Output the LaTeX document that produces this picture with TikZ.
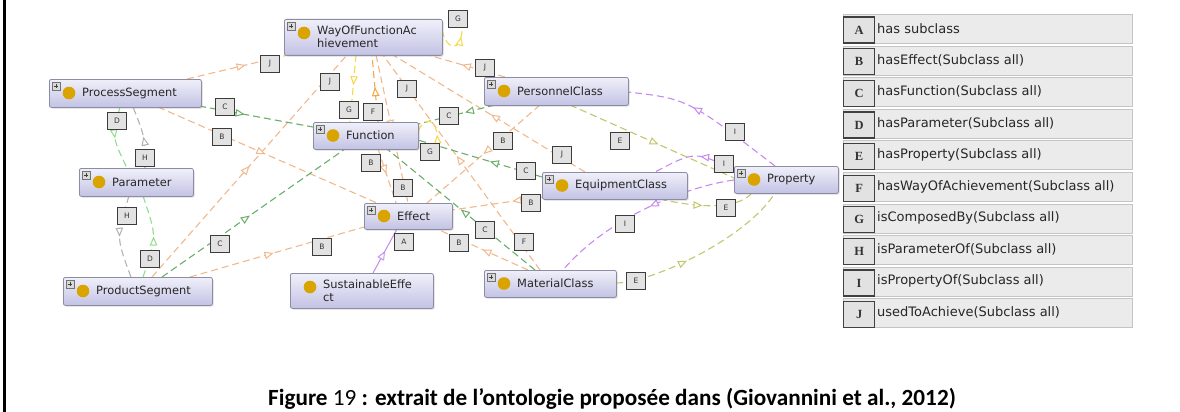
\documentclass[tikz,border=0pt]{standalone}
\usepackage{fontspec}
\setmainfont{DejaVu Sans}
\newfontfamily\capfont{Carlito}
\newfontfamily\letfont{Liberation Serif}
\usetikzlibrary{calc,arrows.meta,decorations.markings,shadows}
\definecolor{ntop}{HTML}{F0F0FA}
\definecolor{nbot}{HTML}{C2C2E4}
\definecolor{nbord}{HTML}{8C8CA4}
\definecolor{gold}{HTML}{D9A300}
\definecolor{labf}{HTML}{E2E2E2}
\definecolor{labb}{HTML}{3C3C3C}
\definecolor{colJ}{HTML}{F0B88C}
\definecolor{colF}{HTML}{F2A848}
\definecolor{colC}{HTML}{6AAE6A}
\definecolor{colD}{HTML}{8EDE8E}
\definecolor{colE}{HTML}{C2C66E}
\definecolor{colG}{HTML}{F6D84A}
\definecolor{colH}{HTML}{B2B2B2}
\definecolor{colI}{HTML}{C888F0}
\definecolor{colA}{HTML}{C494EC}
\definecolor{rowf}{HTML}{EBEBEB}
\definecolor{rowb}{HTML}{C4C4C4}
\pgfdeclarelayer{edges}
\pgfsetlayers{edges,main}
\tikzset{
  cls/.style={draw=nbord, line width=0.8pt, rounded corners=2pt, top color=ntop, bottom color=nbot, anchor=north west, inner sep=0pt, drop shadow={shadow xshift=1.2pt, shadow yshift=-1.2pt, opacity=0.3}},
  ctext/.style={anchor=west, inner sep=0pt, align=left, text=black!85, font=\fontsize{11.4}{13}\selectfont},
  lab/.style={draw=labb, line width=1.1pt, fill=labf, minimum width=19pt, minimum height=17pt, inner sep=0pt, text=black!80, font=\fontsize{7.5}{8}\selectfont, drop shadow={shadow xshift=0.8pt, shadow yshift=-0.8pt, opacity=0.3}},
  rel/.style={dash pattern=on 7pt off 4pt, line width=1.1pt},
  tipat/.style={postaction={decorate, decoration={markings, mark=at position #1 with {\arrow[solid, line width=1pt]{Triangle[length=9pt, width=7.5pt, fill=white]}}}}},
  legrow/.style={draw=rowb, fill=rowf, line width=0.8pt, anchor=north west, minimum width=289pt, minimum height=29pt, inner sep=0pt},
  legbox/.style={draw=black!75, fill=labf, line width=1.3pt, anchor=north west, minimum width=31pt, minimum height=26pt, inner sep=0pt, font=\letfont\bfseries\fontsize{12.5}{14}\selectfont, text=black!80},
  legtext/.style={anchor=west, inner sep=0pt, font=\fontsize{13}{15}\selectfont, text=black!85},
}
\newcommand\ontnode[7]{%
  \node[cls, minimum width=#4pt, minimum height=#5pt] (#1) at (#2,#3) {};
  \fill[gold] ($(#1.north west)+(20,#6)$) circle (6.3pt);
  \node[ctext] (#1t) at ($(#1.north west)+(33,#5/2)$) {#7};
}
\newcommand\ontplus[1]{%
  \draw[fill=white!85!black, draw=black!55, line width=0.5pt] ($(#1.north west)+(3,3)$) rectangle ($(#1.north west)+(11,11)$);
  \draw[line width=0.9pt, black!75] ($(#1.north west)+(4.8,7)$) -- ($(#1.north west)+(9.2,7)$) ($(#1.north west)+(7,4.8)$) -- ($(#1.north west)+(7,9.2)$);
}
\begin{document}
\begin{tikzpicture}[x=1pt,y=-1pt]
\useasboundingbox (0,0) rectangle (1180,412);
\draw[line width=3pt] (4.5,0) -- (4.5,412);

% classes
\ontnode{way}{284}{19}{158}{36}{14}{WayOfFunctionAc\\hievement}
\ontnode{ps}{49}{79}{152}{28}{14}{ProcessSegment}
\ontnode{par}{79}{168}{114}{28}{14}{Parameter}
\ontnode{prod}{63}{277}{149}{28}{14}{ProductSegment}
\ontnode{fun}{313}{122}{105}{27}{13.5}{Function}
\ontnode{eff}{364}{203}{88}{26}{13}{Effect}
\ontnode{sus}{290}{273}{143}{35}{14}{SustainableEffe\\ct}
\ontnode{mat}{484}{270}{132}{27}{13.5}{MaterialClass}
\ontnode{per}{484}{77}{144}{28}{14}{PersonnelClass}
\ontnode{equ}{542}{172}{145}{27}{13.5}{EquipmentClass}
\ontnode{prop}{734}{166}{104}{27}{13.5}{Property}
\ontplus{way}\ontplus{ps}\ontplus{par}\ontplus{prod}\ontplus{fun}\ontplus{eff}
\ontplus{mat}\ontplus{per}\ontplus{equ}\ontplus{prop}

% edge labels
\node[lab] (lj1) at (270,64) {J};
\node[lab] (lj2) at (330,82) {J};
\node[lab] (lj3) at (407,89) {J};
\node[lab] (lj4) at (485,68) {J};
\node[lab] (lj5) at (562,155) {J};
\node[lab] (lc1) at (225,107) {C};
\node[lab] (lc2) at (220,244) {C};
\node[lab] (lc3) at (449,116) {C};
\node[lab] (lc4) at (526,171) {C};
\node[lab] (lc5) at (485,230) {C};
\node[lab] (lb1) at (222,137) {B};
\node[lab] (lb2) at (322,247) {B};
\node[lab] (lb3) at (503,141) {B};
\node[lab] (lb4) at (371,163) {B};
\node[lab] (lb5) at (403,188) {B};
\node[lab] (lb6) at (531,203) {B};
\node[lab] (lb7) at (459,243) {B};
\node[lab] (ld1) at (117,121) {D};
\node[lab] (ld2) at (150,259) {D};
\node[lab] (lh1) at (145,158) {H};
\node[lab] (lh2) at (127,216) {H};
\node[lab] (lg1) at (458,19) {G};
\node[lab] (lg2) at (349,110) {G};
\node[lab] (lg3) at (430,152) {G};
\node[lab] (lf1) at (373,112) {F};
\node[lab] (lf2) at (524,242) {F};
\node[lab] (le1) at (620,141) {E};
\node[lab] (le2) at (726,208) {E};
\node[lab] (le3) at (636,281) {E};
\node[lab] (li1) at (735,132) {I};
\node[lab] (li2) at (724,164) {I};
\node[lab] (li3) at (625,224) {I};
\node[lab] (la1) at (404,242) {A};

\begin{pgfonlayer}{edges}
% J usedToAchieve
\draw[rel,colJ,tipat=0.58] ($(ps.north west)+(138,0)$) -- ($(way.north west)+(4,36)$);
\draw[rel,colJ,tipat=0.5] ($(prod.north west)+(89,0)$) -- ($(way.north west)+(63,36)$);
\draw[rel,colJ,tipat=0.53] ($(mat.north west)+(56,0)$) -- ($(way.north west)+(99,36)$);
\draw[rel,colJ,tipat=0.49] ($(equ.north west)+(43,0)$) -- ($(way.north west)+(109,36)$);
\draw[rel,colJ,tipat=0.56] ($(per.north west)+(21,0)$) -- ($(way.north west)+(144,36)$);
% B hasEffect
\draw[rel,colJ,tipat=0.49] ($(ps.north west)+(109,28)$) -- ($(eff.north west)+(13,0)$);
\draw[rel,colJ,tipat=0.48] ($(prod.north west)+(127,0)$) -- ($(eff.north west)+(0,24)$);
\draw[rel,colJ,tipat=0.5] ($(way.north west)+(92,36)$) -- ($(eff.north west)+(44,0)$);
\draw[rel,colJ,tipat=0.46] ($(fun.north west)+(65,27)$) -- ($(eff.north west)+(32,0)$);
\draw[rel,colJ,tipat=0.5] ($(per.north west)+(56,28)$) -- ($(eff.north west)+(63,0)$);
\draw[rel,colJ,tipat=0.33] ($(equ.north west)+(0,25)$) -- ($(eff.north west)+(88,7)$);
\draw[rel,colJ,tipat=0.5] ($(mat.north west)+(44,0)$) -- ($(eff.north west)+(73,26)$);
% C hasFunction
\draw[rel,colC,tipat=0.4] ($(ps.north west)+(150,27)$) -- ($(fun.north west)+(0,5)$);
\draw[rel,colC,tipat=0.48] ($(prod.north west)+(99,0)$) -- ($(fun.north west)+(32,27)$);
\draw[rel,colC,tipat=0.39] ($(per.north west)+(11,28)$) -- ($(fun.north west)+(105,2)$);
\draw[rel,colC,tipat=0.42] ($(equ.north west)+(0,5)$) -- ($(fun.north west)+(105,18)$);
\draw[rel,colC,tipat=0.5] ($(mat.north west)+(51,0)$) -- ($(fun.north west)+(74,27)$);
% D hasParameter / H isParameterOf
\draw[rel,colD,tipat=0.5] ($(ps.north west)+(71,28)$) .. controls (112,137) .. ($(par.north west)+(48,0)$);
\draw[rel,colH,tipat=0.5] ($(par.north west)+(66,0)$) .. controls (145,137) .. ($(ps.north west)+(84,28)$);
\draw[rel,colH,tipat=0.5] ($(par.north west)+(50,28)$) .. controls (116,237) .. ($(prod.north west)+(68,0)$);
\draw[rel,colD,tipat=0.5] ($(prod.north west)+(80,0)$) .. controls (157,237) .. ($(par.north west)+(64,28)$);
% G isComposedBy / F hasWayOfAchievement
\draw[rel,colG,tipat=0.45] ($(way.north west)+(72,36)$) -- ($(fun.north west)+(37,0)$);
\draw[rel,colF,tipat=0.52] ($(fun.north west)+(65,0)$) -- ($(way.north west)+(88,36)$);
\draw[rel,colG,tipat=0.8] ($(way.north west)+(158,11)$) .. controls (447,52) and (462,52) .. ($(lg1.south)+(4,0)$);
\draw[rel,colG,tipat=0.2] ($(lg3.north)+(7,0)$) .. controls (439,118) and (424,115) .. ($(fun.north west)+(105,10)$);
% E hasProperty
\draw[rel,colE,tipat=0.54] ($(per.north west)+(86,28)$) -- ($(prop.north west)+(0,12)$);
\draw[rel,colE,tipat=0.45] ($(equ.north west)+(118,27)$) .. controls (690,206) and (735,212) .. ($(prop.north west)+(18,27)$);
\draw[rel,colE,tipat=0.4] ($(mat.north west)+(132,13)$) .. controls (650,283) and (745,240) .. ($(prop.north west)+(41,27)$);
% I isPropertyOf
\draw[rel,colI,tipat=0.6] ($(prop.north west)+(41,0)$) .. controls (688,99) .. ($(per.north west)+(144,15)$);
\draw[rel,colI,tipat=0.43] ($(prop.north west)+(0,4)$) .. controls (695,151) .. ($(equ.north west)+(113,0)$);
\draw[rel,colI,tipat=0.45] ($(prop.north west)+(0,14)$) .. controls (690,186) and (610,215) .. ($(mat.north west)+(79,0)$);
% A has subclass
\draw[colA,line width=1.1pt,tipat=0.5] ($(sus.north west)+(83,0)$) -- ($(eff.north west)+(33,26)$);
\end{pgfonlayer}

% legend
\foreach \i/\L/\T in {0/A/has subclass,1/B/hasEffect(Subclass all),2/C/hasFunction(Subclass all),3/D/hasParameter(Subclass all),4/E/hasProperty(Subclass all),5/F/hasWayOfAchievement(Subclass all),6/G/isComposedBy(Subclass all),7/H/isParameterOf(Subclass all),8/I/isPropertyOf(Subclass all),9/J/usedToAchieve(Subclass all)}{
  \node[legrow] (legr\L) at (843,14+31.6*\i) {};
  \node[legbox] (legb\L) at (843,16.5+31.6*\i) {\L};
  \node[legtext] (legt\L) at (877,28.5+31.6*\i) {\T};
}

% caption
\node[font=\capfont\bfseries\fontsize{23.2}{26}\selectfont, inner sep=0pt] (cap) at (612,399) {Figure {\mdseries 19} : extrait de l’ontologie proposée dans (Giovannini et al., 2012)};
\end{tikzpicture}
\end{document}
